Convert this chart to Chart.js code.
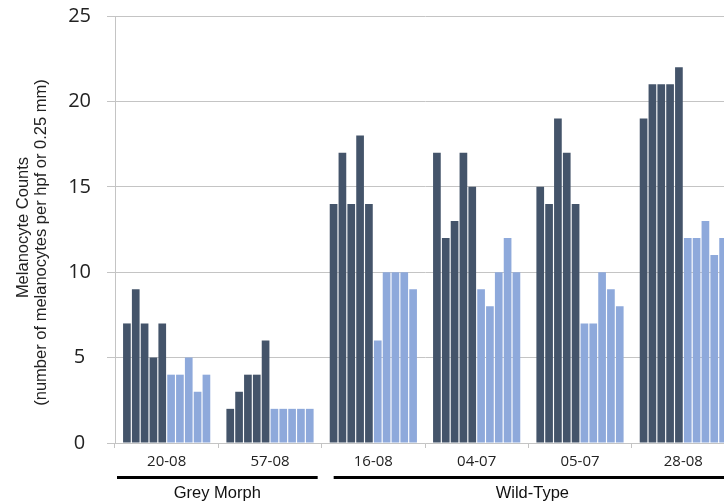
<!DOCTYPE html>
<html>
<head>
<meta charset="utf-8">
<script src="https://cdn.jsdelivr.net/npm/chart.js@4"></script>
<style>
html,body{margin:0;padding:0;background:#fff;overflow:hidden;width:724px;height:502px;}
canvas{display:block;}
</style>
</head>
<body>
<canvas id="c" width="735" height="502" style="width:735px;height:502px"></canvas>
<script>
// Categories (x tick labels)
const categories = ['20-08', '57-08', '16-08', '04-07', '05-07', '28-08'];
// Group labels below the axis
const groupNames = ['Grey Morph', 'Wild-Type'];
const groupFirst = [0, 2];
const groupLast = [1, 5];
// Y axis title lines
const yTitle = ['Melanocyte Counts', '(number of melanocytes per hpf or 0.25 mm)'];
// Melanocyte counts per category: first five samples (dark), last five samples (light)
const dark20_08 = [7, 9, 7, 5, 7];   const light20_08 = [4, 4, 5, 3, 4];
const dark57_08 = [2, 3, 4, 4, 6];   const light57_08 = [2, 2, 2, 2, 2];
const dark16_08 = [14, 17, 14, 18, 14]; const light16_08 = [6, 10, 10, 10, 9];
const dark04_07 = [17, 12, 13, 17, 15]; const light04_07 = [9, 8, 10, 12, 10];
const dark05_07 = [15, 14, 19, 17, 14]; const light05_07 = [7, 7, 10, 9, 8];
const dark28_08 = [19, 21, 21, 21, 22]; const light28_08 = [12, 12, 13, 11, 12];
const yTicks = [0, 5, 10, 15, 20, 25];

const darkRows = [dark20_08, dark57_08, dark16_08, dark04_07, dark05_07, dark28_08];
const lightRows = [light20_08, light57_08, light16_08, light04_07, light05_07, light28_08];

const DARK = '#44546A', LIGHT = '#8EA9DB', GRID = '#C4C4C4';
const datasets = [];
for (let i = 0; i < 5; i++) datasets.push({ data: darkRows.map(r => r[i]), backgroundColor: DARK });
for (let i = 0; i < 5; i++) datasets.push({ data: lightRows.map(r => r[i]), backgroundColor: LIGHT });

const groupPlugin = {
  id: 'groups',
  afterDraw(chart) {
    const x = chart.scales.x, ctx = chart.ctx, area = chart.chartArea;
    const half = (x.getPixelForValue(1) - x.getPixelForValue(0)) / 2;
    const insets = [[2, 4], [12, 0]];
    ctx.save();
    groupNames.forEach((name, g) => {
      const s = x.getPixelForValue(groupFirst[g]) - half + insets[g][0];
      const e = x.getPixelForValue(groupLast[g]) + half - insets[g][1];
      ctx.fillStyle = '#000';
      ctx.fillRect(s, area.bottom + 33, e - s, 3);
      ctx.font = '16.5px "Liberation Sans", Arial, sans-serif';
      ctx.textAlign = 'center';
      ctx.textBaseline = 'middle';
      ctx.fillStyle = '#111';
      const cx = g === 0 ? (s + e) / 2 : (x.getPixelForValue(groupFirst[g]) - half + x.getPixelForValue(groupLast[g]) + half) / 2 + 4;
      ctx.fillText(name, cx, area.bottom + 50);
    });
    // y axis title (two centred lines, rotated)
    const cy = (area.top + area.bottom) / 2;
    ctx.font = '16.5px "Liberation Sans", Arial, sans-serif';
    ctx.fillStyle = '#222';
    const lineX = [23, 41], lineShift = [-2, 13];
    yTitle.forEach((t, i) => {
      ctx.save();
      ctx.translate(lineX[i], cy + lineShift[i]);
      ctx.rotate(-Math.PI / 2);
      ctx.fillText(t, 0, 0);
      ctx.restore();
    });
    ctx.restore();
  }
};

new Chart(document.getElementById('c'), {
  type: 'bar',
  data: { labels: categories, datasets },
  options: {
    responsive: false,
    animation: false,
    layout: { padding: { top: 16, right: 0, left: 0, bottom: 0 } },
    plugins: { legend: { display: false }, tooltip: { enabled: false } },
    datasets: { bar: { categoryPercentage: 0.855, barPercentage: 0.87 } },
    scales: {
      x: {
        offset: true,
        grid: { display: true, drawOnChartArea: false, offset: true, color: GRID, tickLength: 5 },
        border: { display: true, color: GRID },
        ticks: { color: '#222', font: { family: '"Open Sans", sans-serif', size: 15 }, padding: 5, maxRotation: 0 },
        afterFit(s) { s.height = 59; s.paddingLeft = 0; s.paddingRight = 0; }
      },
      y: {
        min: 0, max: 25,
        afterBuildTicks(s) { s.ticks = yTicks.map(v => ({ value: v })); },
        grid: { color: GRID, tickLength: 8 },
        border: { display: true, color: GRID },
        ticks: { color: '#222', font: { family: '"Open Sans", sans-serif', size: 20 }, padding: 16, crossAlign: 'center' },
        title: { display: false },
        afterFit(s) { s.width = 115; s.paddingTop = 0; s.paddingBottom = 0; }
      }
    }
  },
  plugins: [groupPlugin]
});
</script>
</body>
</html>
